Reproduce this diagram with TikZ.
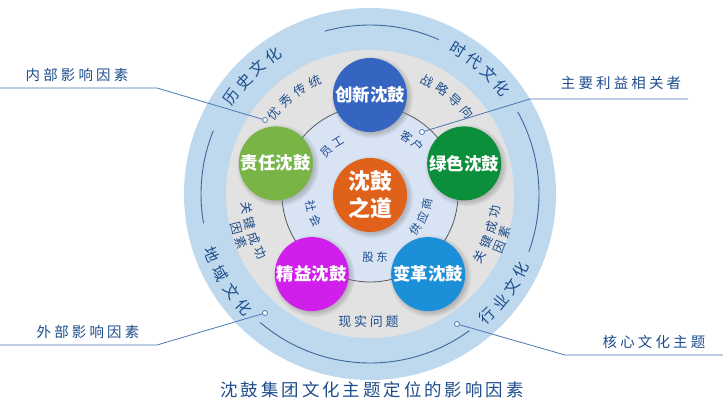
\documentclass[tikz,border=0pt]{standalone}
\usepackage{fontspec}
\setmainfont{Noto Sans CJK SC}
\newfontfamily\lsfont[LetterSpace=22]{Noto Sans CJK SC}
\newfontfamily\ttlfont[LetterSpace=17]{Noto Sans CJK SC}
\usepackage{tikz}
\usetikzlibrary{shadows}
\definecolor{ring}{HTML}{BED8EE}
\definecolor{gr}{HTML}{E2E2E2}
\definecolor{core}{HTML}{D8E3F4}
\definecolor{txt}{HTML}{1D4C8C}
\definecolor{lnk}{HTML}{4A78B0}
\definecolor{cxblue}{HTML}{3565C1}
\definecolor{lsgreen}{HTML}{0B8F3B}
\definecolor{zrgreen}{HTML}{79B447}
\definecolor{jymag}{HTML}{D01FEA}
\definecolor{bgblue}{HTML}{1C8FD9}
\definecolor{orng}{HTML}{E0621A}

\begin{document}
\begin{tikzpicture}[x=1bp,y=1bp,
  disc/.style={circle, minimum size=74bp, inner sep=0pt, text=white,
    font=\fontsize{17.5}{20}\selectfont\bfseries,
    circular drop shadow={shadow scale=1.12, opacity=0.45}},
  ringtxt/.style={text=txt, inner sep=0pt, font=\fontsize{15.5}{16}\selectfont},
  midtxt/.style={text=txt, inner sep=0pt, font=\fontsize{12.5}{13}\selectfont},
  intxt/.style={text=txt, inner sep=0pt, font=\fontsize{11.5}{12}\selectfont},
  calltxt/.style={text=txt, inner sep=0pt, font=\lsfont\fontsize{14.5}{16}\selectfont},
  dot/.style={circle, draw=lnk, fill=white, line width=0.8bp, minimum size=5bp, inner sep=0pt},
  arcline/.style={draw=txt!85, line width=0.9bp},
  lead/.style={draw=lnk, line width=0.8bp}]
\useasboundingbox (-370,-212) rectangle (353,194);

% rings
\fill[ring] (0,0) circle (186);
\fill[gr] (0,0) circle (144);
\filldraw[fill=core, draw=black!65, line width=0.8bp] (0,0) circle (88);
\draw[arcline] (66:169) arc (66:105.5:169);
\draw[arcline] (-20:169) arc (-20:29:169);
\draw[arcline] (158:169) arc (158:190:169);
\draw[arcline] (229.5:169) arc (229.5:306:169);

% outer ring texts
\foreach \c [count=\i from 0] in {历,史,文,化}
  \node[ringtxt, rotate=55-\i*6.7] (ls\i) at ({145-\i*6.7}:169) {\c};
\foreach \c [count=\i from 0] in {时,代,文,化}
  \node[ringtxt, rotate=-31.5-\i*6.6] (sd\i) at ({58.5-\i*6.6}:169) {\c};
\foreach \c [count=\i from 0] in {地,域,文,化}
  \node[ringtxt, rotate=291+\i*7] (dy\i) at ({201+\i*7}:169) {\c};
\foreach \c [count=\i from 0] in {行,业,文,化}
  \node[ringtxt, rotate=44+\i*6.4] (hy\i) at ({-46+\i*6.4}:169) {\c};

% gray ring texts
\foreach \c [count=\i from 0] in {优,秀,传,统}
  \node[midtxt, rotate=50-\i*8] (yx\i) at ({140-\i*8}:125) {\c};
\foreach \c [count=\i from 0] in {战,略,导,向}
  \node[midtxt, rotate=-27-\i*7.7] (zl\i) at ({63-\i*7.7}:127) {\c};
\foreach \c [count=\i from 0] in {关,键,成,功}
  \node[midtxt, rotate=276.7+\i*7.2] (gjl\i) at ({186.7+\i*7.2}:124) {\c};
\foreach \c [count=\i from 0] in {因,素}
  \node[midtxt, rotate=284.3+\i*6.4] (ysl\i) at ({194.3+\i*6.4}:138) {\c};
\foreach \c [count=\i from 0] in {关,键,成,功}
  \node[midtxt, rotate=60.2+\i*7.2] (gjr\i) at ({-29.8+\i*7.2}:126) {\c};
\foreach \c [count=\i from 0] in {因,素}
  \node[midtxt, rotate=67.8+\i*6.4] (ysr\i) at ({-22.2+\i*6.4}:140) {\c};
\node[midtxt, font=\lsfont\fontsize{13}{14}\selectfont] (xs) at (-1.5,-128) {现实问题};

% inner texts
\foreach \c [count=\i from 0] in {员,工}
  \node[intxt, rotate=46-\i*15] (yg\i) at ({136-\i*15}:61) {\c};
\foreach \c [count=\i from 0] in {客,户}
  \node[intxt, rotate=-32.5-\i*12] (kh\i) at ({57.5-\i*12}:68) {\c};
\foreach \c [count=\i from 0] in {社,会}
  \node[intxt, rotate=282+\i*14] (sh\i) at ({192+\i*14}:60) {\c};
\foreach \c [count=\i from 0] in {供,应,商}
  \node[intxt, rotate=52+\i*14] (gy\i) at ({-38+\i*14}:58) {\c};
\node[intxt, font=\lsfont\fontsize{11.5}{12}\selectfont] (gd) at (5,-63) {股东};

% five discs and the centre
\node[disc, fill=cxblue] (cx) at (90:99) {创新沈鼓};
\node[disc, fill=lsgreen] (ls) at (18:99) {绿色沈鼓};
\node[disc, fill=zrgreen] (zr) at (162:99) {责任沈鼓};
\node[disc, fill=jymag] (jy) at (234:99) {精益沈鼓};
\node[disc, fill=bgblue] (bg) at (306:99) {变革沈鼓};
\node[disc, fill=orng, align=center, font=\fontsize{22}{27}\selectfont\bfseries] (sg) at (0,-1) {沈鼓\\之道};

% callouts
\node[dot] (d1) at (-105,74) {};
\coordinate (b1) at (-213,106);
\coordinate (e1) at (-370,106);
\draw[lead] (d1) -- (b1) -- (e1);
\node[calltxt] (t1) at (-293,119) {内部影响因素};

\node[dot] (d2) at (-105,-119) {};
\coordinate (b2) at (-213,-151);
\coordinate (e2) at (-370,-151);
\draw[lead] (d2) -- (b2) -- (e2);
\node[calltxt] (t2) at (-282,-138) {外部影响因素};

\node[dot] (d3) at (52,62) {};
\coordinate (b3) at (160,95);
\coordinate (e3) at (318,95);
\draw[lead] (d3) -- (b3) -- (e3);
\node[calltxt] (t3) at (251,111) {主要利益相关者};

\node[dot] (d4) at (87,-130) {};
\coordinate (b4) at (195,-161);
\coordinate (e4) at (353,-161);
\draw[lead] (d4) -- (b4) -- (e4);
\node[calltxt] (t4) at (284,-148) {核心文化主题};

\node[text=txt, inner sep=0pt, font=\ttlfont\fontsize{17.5}{20}\selectfont] (title) at (2,-196) {沈鼓集团文化主题定位的影响因素};
\end{tikzpicture}
\end{document}
